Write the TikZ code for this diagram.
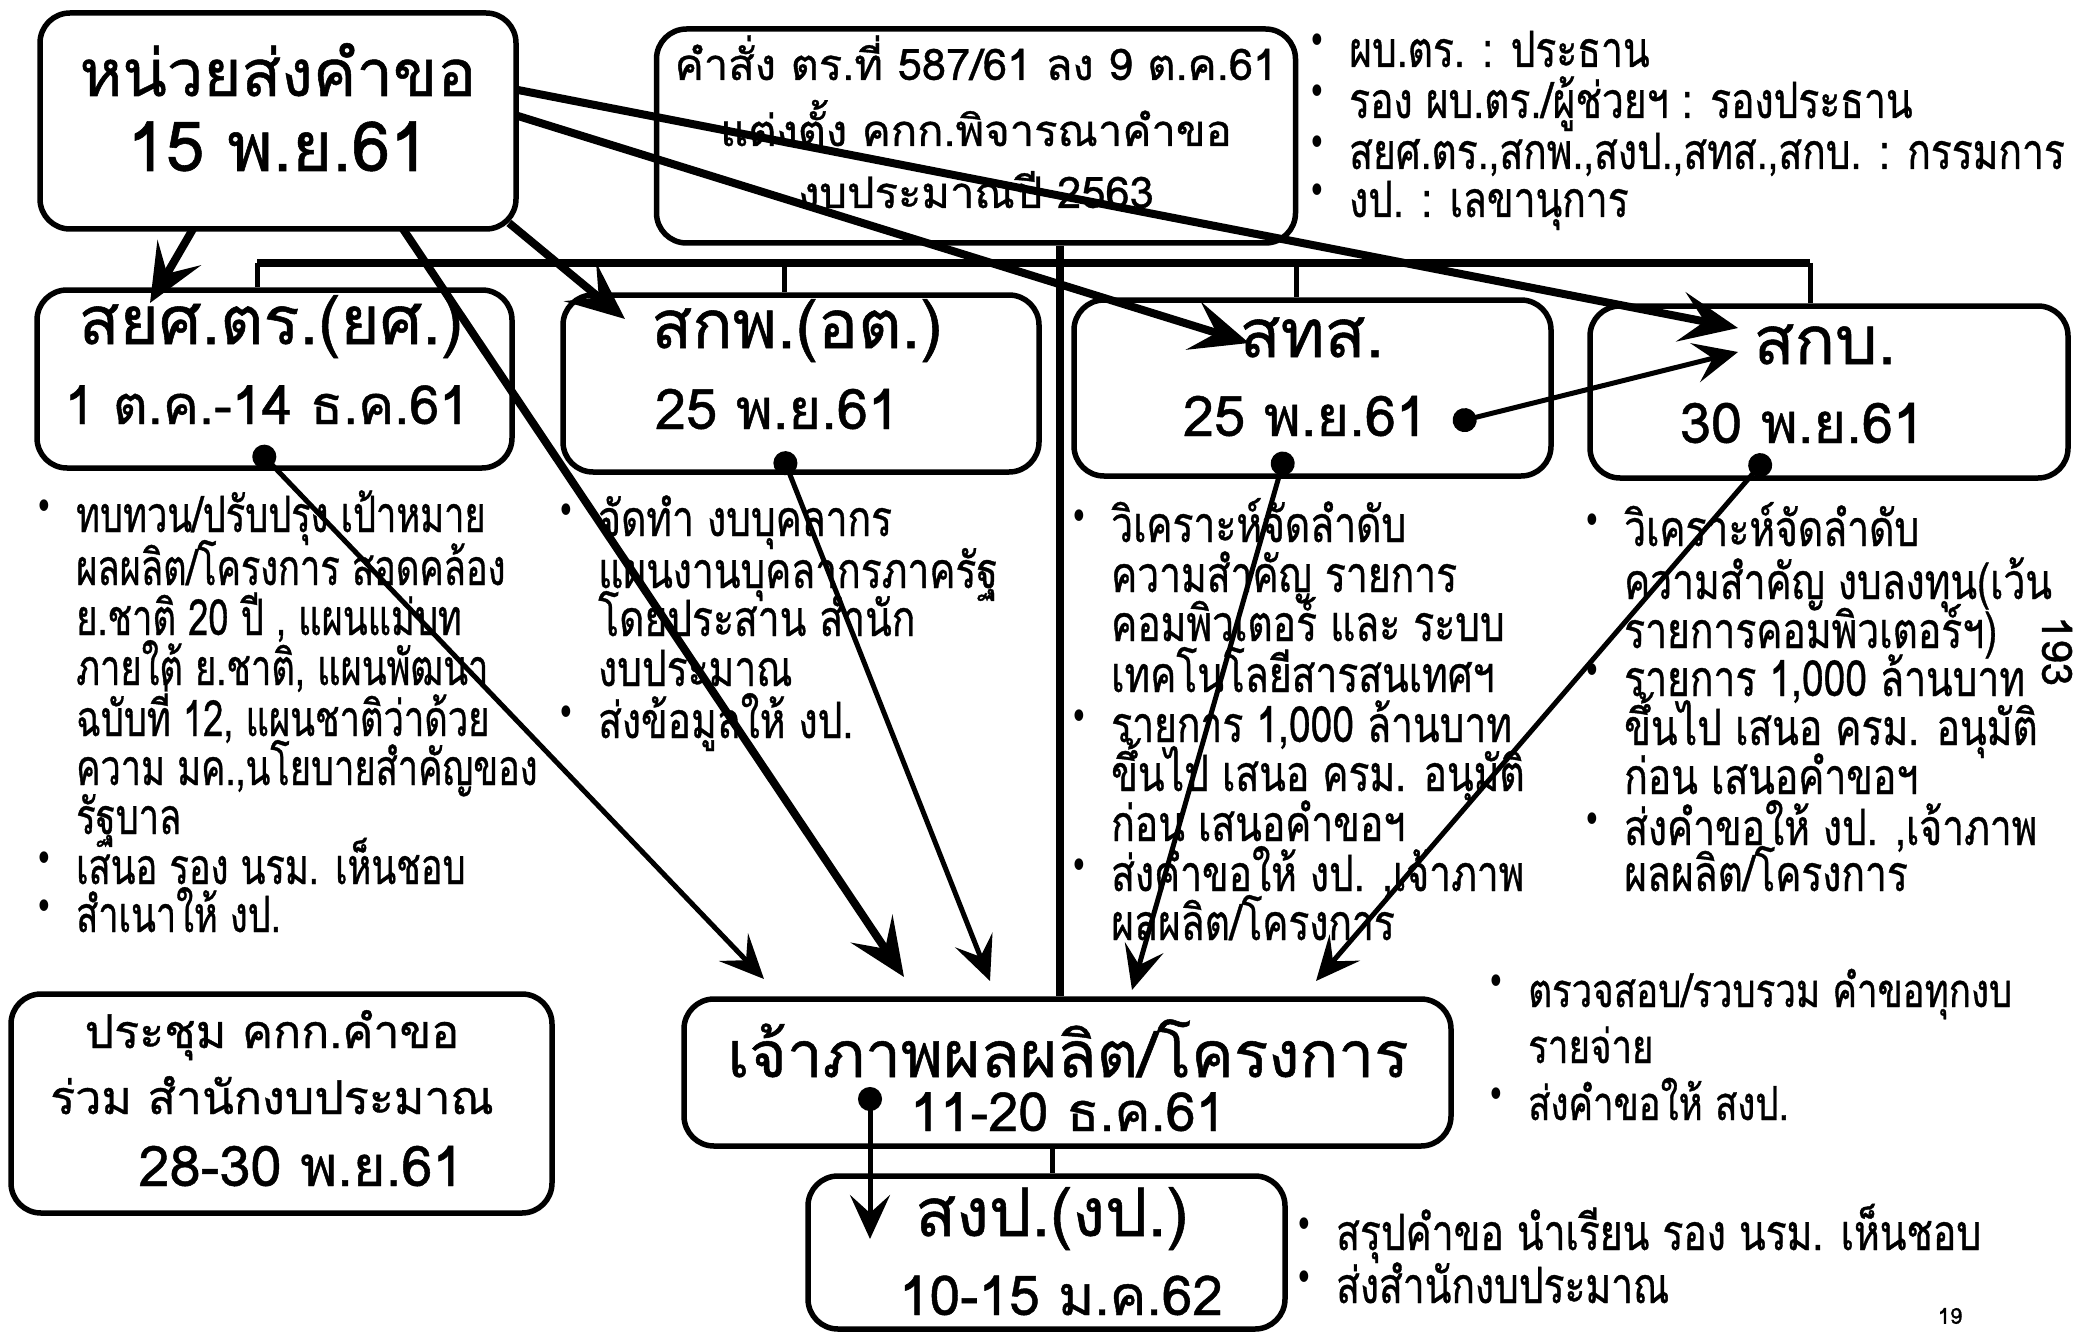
\documentclass[tikz,border=0pt]{standalone}
\usepackage{fontspec}
\usetikzlibrary{arrows.meta}
\newfontfamily\thai[Script=Thai,FakeBold=0.8]{Loma}
\newfontfamily\thaic[Script=Thai,FakeStretch=0.78,FakeBold=0.7]{Loma}
\newfontfamily\thaicc[Script=Thai,FakeStretch=0.725,FakeBold=0.7]{Loma}
\newfontfamily\dvsc[FakeStretch=0.75]{DejaVu Sans}
\newcommand{\bu}{\llap{\raisebox{12pt}{\dvsc\fontsize{40}{40}\selectfont •}\hspace{23pt}}}
\tikzset{
  box/.style={draw=black, line width=5.5pt, rounded corners=30pt, inner sep=0pt},
  ttl/.style={font=\thai\fontsize{66}{66}\selectfont, inner sep=0pt, anchor=base},
  ttlb/.style={font=\thai\fontsize{67}{67}\selectfont, inner sep=0pt, anchor=base},
  dat/.style={font=\thai\fontsize{56}{56}\selectfont, inner sep=0pt, anchor=base},
  btx/.style={font=\thai\fontsize{43.5}{43.5}\selectfont, inner sep=0pt, anchor=base},
  mtx/.style={font=\thai\fontsize{46.5}{46.5}\selectfont, inner sep=0pt, anchor=base},
  bl/.style={font=\thaic\fontsize{50}{50}\selectfont, inner sep=0pt, anchor=base west},
  blone/.style={font=\thaicc\fontsize{50}{50}\selectfont, inner sep=0pt, anchor=base west},
  blj/.style={font=\thaic\fontsize{47}{47}\selectfont, inner sep=0pt, anchor=base west},
  bigarrow/.style={line width=8pt, -{Stealth[length=58pt,width=50pt,inset=24pt]}},
  dotarrow/.style={line width=5pt, {Circle[length=24pt]}-{Stealth[length=44pt,width=40pt,inset=18pt]}},
  trunk/.style={line width=8pt},
  stub/.style={line width=5pt}
}
\begin{document}
\begin{tikzpicture}[x=1pt,y=-1pt]
\useasboundingbox (0,0) rectangle (2084,1332);
\fill[white] (0,0) rectangle (2084,1332);

% boxes
\node[box, minimum width=476pt, minimum height=216pt] (A) at (278,121) {};
\node[box, minimum width=639pt, minimum height=214pt] (B) at (976,136) {};
\node[box, minimum width=475pt, minimum height=178pt] (C1) at (274.5,379) {};
\node[box, minimum width=476pt, minimum height=177pt] (C2) at (801,383.5) {};
\node[box, minimum width=477pt, minimum height=176pt] (C3) at (1312.5,388) {};
\node[box, minimum width=478pt, minimum height=172pt] (C4) at (1829,392) {};
\node[box, minimum width=541pt, minimum height=219pt] (M) at (281.5,1103.5) {};
\node[box, minimum width=767pt, minimum height=147pt] (J) at (1067.5,1072.5) {};
\node[box, minimum width=477pt, minimum height=153pt] (S) at (1046.5,1252.5) {};

% box texts
\node[ttl, font=\thai\fontsize{65}{65}\selectfont] (At) at (278,96) {หน่วยส่งคำขอ};
\node[ttl, font=\thai\fontsize{69}{69}\selectfont] (Ad) at (278,171) {15 พ.ย.61};
\node[btx] (B1) at (976,80) {คำสั่ง ตร.ที่ 587/61 ลง 9 ต.ค.61};
\node[btx] (B2) at (976,146) {แต่งตั้ง คกก.พิจารณาคำขอ};
\node[btx] (B3) at (976,208) {งบประมาณปี 2563};
\node[ttlb] (C1t) at (271,344) {สยศ.ตร.(ยศ.)};
\node[dat, font=\thai\fontsize{54}{54}\selectfont] (C1d) at (267,424) {1 ต.ค.-14 ธ.ค.61};
\node[ttlb] (C2t) at (797,348) {สกพ.(อต.)};
\node[dat] (C2d) at (777,429) {25 พ.ย.61};
\node[ttlb] (C3t) at (1312,357) {สทส.};
\node[dat] (C3d) at (1305,436) {25 พ.ย.61};
\node[ttlb] (C4t) at (1825,364) {สกบ.};
\node[dat] (C4d) at (1802,443) {30 พ.ย.61};
\node[mtx] (M1) at (272,1048) {ประชุม คกก.คำขอ};
\node[mtx] (M2) at (272,1114) {ร่วม สำนักงบประมาณ};
\node[dat] (M3) at (301,1186) {28-30 พ.ย.61};
\node[ttl, font=\thai\fontsize{64}{64}\selectfont] (Jt) at (1068,1077) {เจ้าภาพผลผลิต/โครงการ};
\node[dat, font=\thai\fontsize{54}{54}\selectfont] (Jd) at (1068,1131) {11-20 ธ.ค.61};
\node[ttl, font=\thai\fontsize{67}{67}\selectfont] (St) at (1052,1236) {สงป.(งป.)};
\node[dat, font=\thai\fontsize{55}{55}\selectfont] (Sd) at (1061,1315) {10-15 ม.ค.62};

% top-right bullets
\node[bl] (T1) at (1349,67) {\bu ผบ.ตร. : ประธาน};
\node[bl] (T2) at (1349,118) {\bu รอง ผบ.ตร./ผู้ช่วยฯ : รองประธาน};
\node[bl] (T3) at (1349,169) {\bu สยศ.ตร.,สกพ.,สงป.,สทส.,สกบ. : กรรมการ};
\node[bl] (T4) at (1349,217) {\bu งป. : เลขานุการ};

% column 1
\node[blone] (c1a) at (76,532) {\bu ทบทวน/ปรับปรุง เป้าหมาย};
\node[blone] (c1b) at (76,585) {ผลผลิต/โครงการ สอดคล้อง};
\node[blone] (c1c) at (76,635) {ย.ชาติ 20 ปี , แผนแม่บท};
\node[blone] (c1d) at (76,685) {ภายใต้ ย.ชาติ, แผนพัฒนา};
\node[blone] (c1e) at (76,736) {ฉบับที่ 12, แผนชาติว่าด้วย};
\node[blone] (c1f) at (76,785) {ความ มค.,นโยบายสำคัญของ};
\node[blone] (c1g) at (76,834) {รัฐบาล};
\node[blone] (c1h) at (76,884) {\bu เสนอ รอง นรม. เห็นชอบ};
\node[blone] (c1i) at (76,932) {\bu สำเนาให้ งป.};

% column 2
\node[bl] (c2a) at (598,536) {\bu จัดทำ งบบุคลากร};
\node[bl] (c2b) at (598,588) {แผนงานบุคลากรภาครัฐ};
\node[bl] (c2c) at (598,636) {โดยประสาน สำนัก};
\node[bl] (c2d) at (598,686) {งบประมาณ};
\node[bl] (c2e) at (598,738) {\bu ส่งข้อมูลให้ งป.};

% column 3
\node[bl] (c3a) at (1111,542) {\bu วิเคราะห์จัดลำดับ};
\node[bl] (c3b) at (1111,592) {ความสำคัญ รายการ};
\node[bl] (c3c) at (1111,641) {คอมพิวเตอร์ และ ระบบ};
\node[bl] (c3d) at (1111,692) {เทคโนโลยีสารสนเทศฯ};
\node[bl] (c3e) at (1111,742) {\bu รายการ 1,000 ล้านบาท};
\node[bl] (c3f) at (1111,791) {ขึ้นไป เสนอ ครม. อนุมัติ};
\node[bl] (c3g) at (1111,841) {ก่อน เสนอคำขอฯ};
\node[bl] (c3h) at (1111,891) {\bu ส่งคำขอให้ งป. ,เจ้าภาพ};
\node[bl] (c3i) at (1111,940) {ผลผลิต/โครงการ};

% column 4
\node[bl] (c4a) at (1624,546) {\bu วิเคราะห์จัดลำดับ};
\node[bl] (c4b) at (1624,599) {ความสำคัญ งบลงทุน(เว้น};
\node[bl] (c4c) at (1624,648) {รายการคอมพิวเตอร์ฯ)};
\node[bl] (c4d) at (1624,696) {\bu รายการ 1,000 ล้านบาท};
\node[bl] (c4e) at (1624,745) {ขึ้นไป เสนอ ครม. อนุมัติ};
\node[bl] (c4f) at (1624,794) {ก่อน เสนอคำขอฯ};
\node[bl] (c4g) at (1624,845) {\bu ส่งคำขอให้ งป. ,เจ้าภาพ};
\node[bl] (c4h) at (1624,891) {ผลผลิต/โครงการ};

% J bullets
\node[blj] (j1) at (1528,1007) {\bu ตรวจสอบ/รวบรวม คำขอทุกงบ};
\node[blj] (j2) at (1528,1063) {รายจ่าย};
\node[blj] (j3) at (1528,1120) {\bu ส่งคำขอให้ สงป.};

% S bullets
\node[bl] (s1) at (1336,1250) {\bu สรุปคำขอ นำเรียน รอง นรม. เห็นชอบ};
\node[bl] (s2) at (1336,1303) {\bu ส่งสำนักงบประมาณ};

% page numbers
\node[rotate=-90, font=\thai\fontsize{42}{42}\selectfont, inner sep=0pt] (pg) at (2057,651) {193};
\node[font=\thai\fontsize{22}{22}\selectfont, inner sep=0pt] (pn) at (1950,1316) {19};

% tree connectors
\coordinate (bus1) at (257,263);
\coordinate (bus2) at (784,263);
\coordinate (bus3) at (1296,263);
\coordinate (bus4) at (1810,263);
\draw[trunk] (bus1) -- (bus4);
\draw[stub] (bus1) -- (bus1 |- C1.north);
\draw[stub] (bus2) -- (bus2 |- C2.north);
\draw[stub] (bus3) -- (bus3 |- C3.north);
\draw[stub] (bus4) -- (bus4 |- C4.north);
\coordinate (tr) at (1060,263);
\draw[trunk] (tr |- B.south) -- (tr |- J.north);
\coordinate (js) at (1052,1146);
\draw[stub] (js |- J.south) -- (js |- S.north);

% arrows from A
\coordinate (a1) at (193,229); \coordinate (t1) at (150,303);
\coordinate (a2) at (509,223); \coordinate (t2) at (625,319);
\coordinate (a3) at (403,229); \coordinate (t3) at (904,977);
\coordinate (a4) at (518,116); \coordinate (t4) at (1249,343);
\coordinate (a5) at (518,90);  \coordinate (t5) at (1738,328);
\draw[bigarrow] (a1) -- (t1);
\draw[bigarrow] (a2) -- (t2);
\draw[bigarrow] (a3) -- (t3);
\draw[bigarrow] (a4) -- (t4);
\draw[bigarrow] (a5) -- (t5);

% dot arrows
\coordinate (d0) at (1453,423); \coordinate (e0) at (1738,352);
\coordinate (d1) at (256,448);  \coordinate (e1) at (764,979);
\coordinate (d2) at (781,452);  \coordinate (e2) at (990,981);
\coordinate (d3) at (1286,452); \coordinate (e3) at (1132,990);
\coordinate (d4) at (1768,456); \coordinate (e4) at (1316,981);
\coordinate (d5) at (870,1087); \coordinate (e5) at (870,1239);
\draw[dotarrow] (d0) -- (e0);
\draw[dotarrow] (d1) -- (e1);
\draw[dotarrow] (d2) -- (e2);
\draw[dotarrow] (d3) -- (e3);
\draw[dotarrow] (d4) -- (e4);
\draw[dotarrow] (d5) -- (e5);
\end{tikzpicture}
\end{document}
